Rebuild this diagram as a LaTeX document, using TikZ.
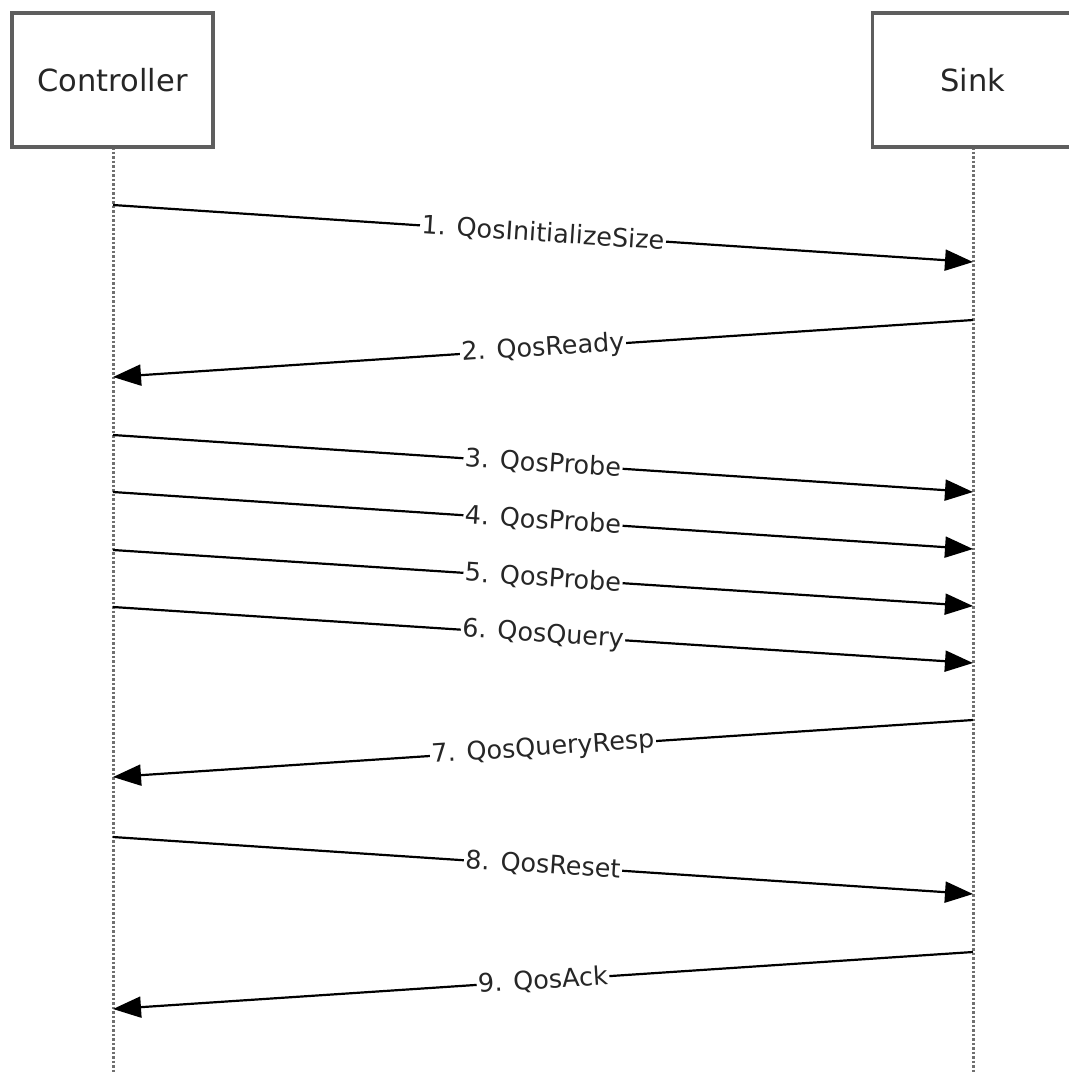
\documentclass[tikz,border=0pt]{standalone}
\usepackage{fontspec}
\setmainfont{DejaVu Sans}
\usetikzlibrary{arrows.meta}
\definecolor{boxgray}{HTML}{5E5E5E}
\definecolor{linegray}{HTML}{707070}
\definecolor{txtgray}{HTML}{262626}
\begin{document}
\begin{tikzpicture}[x=1pt,y=-1pt,
  actor/.style={draw=boxgray, line width=3.5pt, fill=white, minimum width=201pt, minimum height=134pt,
    inner sep=0pt, text=txtgray, font=\fontsize{30.5}{36}\selectfont},
  lifeline/.style={draw=linegray, line width=3pt, dash pattern=on 2.5pt off 2pt},
  msg/.style={line width=2.2pt, draw=black, -{Triangle[length=28pt,width=21pt]}},
  lbl/.style={midway, sloped, fill=white, inner sep=1.5pt, text=txtgray, font=\fontsize{25.5}{30}\selectfont}]
\useasboundingbox (0,0) rectangle (1069,1072);
\fill[white] (0,0) rectangle (1069,1072);
\coordinate (cbot) at (113,1072);
\coordinate (sbot) at (973,1072);
\draw[lifeline] (113,147) -- (cbot);
\draw[lifeline] (973,147) -- (sbot);
\node[actor] (ctrl) at (112.5,80) {Controller};
\node[actor] (sink) at (973,80) {Sink};
% endpoints
\coordinate (a1) at (113,205); \coordinate (b1) at (973,262);
\coordinate (a2) at (973,320); \coordinate (b2) at (113,377);
\coordinate (a3) at (113,435); \coordinate (b3) at (973,492);
\coordinate (a4) at (113,492); \coordinate (b4) at (973,549);
\coordinate (a5) at (113,550); \coordinate (b5) at (973,606);
\coordinate (a6) at (113,607); \coordinate (b6) at (973,663);
\coordinate (a7) at (973,720); \coordinate (b7) at (113,777);
\coordinate (a8) at (113,837); \coordinate (b8) at (973,894);
\coordinate (a9) at (973,952); \coordinate (b9) at (113,1009);
\draw[msg] (a1) -- node[lbl] {1. QosInitializeSize} (b1);
\draw[msg] (a2) -- node[lbl] {2. QosReady} (b2);
\draw[msg] (a3) -- node[lbl] {3. QosProbe} (b3);
\draw[msg] (a4) -- node[lbl] {4. QosProbe} (b4);
\draw[msg] (a5) -- node[lbl] {5. QosProbe} (b5);
\draw[msg] (a6) -- node[lbl] {6. QosQuery} (b6);
\draw[msg] (a7) -- node[lbl] {7. QosQueryResp} (b7);
\draw[msg] (a8) -- node[lbl] {8. QosReset} (b8);
\draw[msg] (a9) -- node[lbl] {9. QosAck} (b9);
\end{tikzpicture}
\end{document}
